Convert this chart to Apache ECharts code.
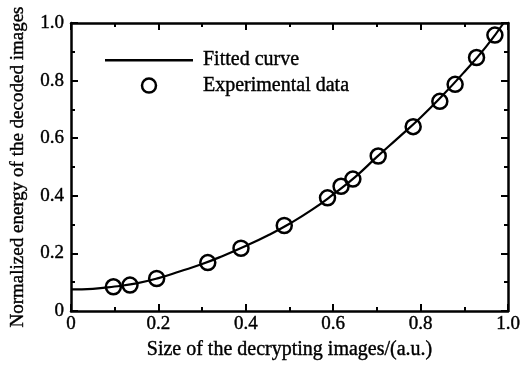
<!DOCTYPE html>
<html>
<head>
<meta charset="utf-8">
<script src="https://cdn.jsdelivr.net/npm/echarts@6/dist/echarts.min.js"></script>
<style>
html,body{margin:0;padding:0;background:#fff;}
#main{width:521px;height:365px;}
</style>
</head>
<body>
<div id="main"></div>
<script>
// 实验数据 (x, y)
var expX=[0.097,0.135,0.196,0.313,0.389,0.488,0.587,0.618,0.645,0.703,0.783,0.844,0.879,0.928,0.970];
var expY=[0.084,0.090,0.113,0.168,0.218,0.297,0.393,0.433,0.458,0.538,0.640,0.728,0.787,0.880,0.958];
// 拟合曲线
var fitX=[0,0.05,0.1,0.15,0.2,0.25,0.3,0.35,0.4,0.45,0.5,0.55,0.6,0.65,0.7,0.75,0.8,0.85,0.9,0.95,0.99];
var fitY=[0.075,0.077,0.085,0.096,0.114,0.138,0.163,0.193,0.226,0.262,0.303,0.350,0.405,0.465,0.535,0.603,0.672,0.748,0.830,0.918,1.0];
var xName='Size of the decrypting images/(a.u.)';
var yName='Normalized energy of the decoded images';
var seriesNames=['Fitted curve','Experimental data'];

var font='"Liberation Serif","Times New Roman",serif';
var chart=echarts.init(document.getElementById('main'));

function pairs(xs,ys){
	var out=[];
	for(var i=0;i<xs.length;i++){
		out.push([xs[i],ys[i]]);
	}
	return out;
}
function fmt(v){
	return v==0 ? '0' : v.toFixed(1);
}
//文字稍微加粗，接近扫描图的效果
function txt(size){
	return {fontFamily:font,fontSize:size,color:'#000',textBorderColor:'#000',textBorderWidth:0.4};
}

var axisLine={show:true,onZero:false,lineStyle:{color:'#000',width:2.5}};
var tick={show:true,inside:true,length:7,lineStyle:{color:'#000',width:2}};
var minor={show:true,splitNumber:2,length:4,lineStyle:{color:'#000',width:2}};

var labelStyle=txt(19);
labelStyle.margin=4;
labelStyle.formatter=fmt;
var yLabelStyle=txt(19);
yLabelStyle.margin=7;
yLabelStyle.formatter=fmt;
var legendText=txt(20);
legendText.padding=[0,0,0,5];

var option={
	backgroundColor:'#fff',
	animation:false,
	grid:{left:71,right:13,top:23,bottom:54,outerBoundsMode:'none'},
	legend:{
		orient:'vertical',
		left:100,
		top:45,
		itemWidth:88,
		itemHeight:14,
		itemGap:5,
		textStyle:legendText,
		data:[
			{name:seriesNames[0],icon:'path://M0,0H100V3H0Z',itemStyle:{color:'#000'}},
			{name:seriesNames[1],icon:'circle',itemStyle:{color:'rgba(0,0,0,0)',borderColor:'#000',borderWidth:2.5}}
		]
	},
	xAxis:[
		{
			type:'value',min:0,max:1,interval:0.2,
			name:xName,nameLocation:'middle',nameGap:28,
			nameTextStyle:txt(20),
			axisLine:axisLine,axisTick:tick,minorTick:minor,
			splitLine:{show:false},
			axisLabel:labelStyle
		},
		{
			type:'value',position:'top',min:0,max:1,interval:0.2,
			axisLine:axisLine,axisTick:tick,minorTick:minor,
			splitLine:{show:false},axisLabel:{show:false}
		}
	],
	yAxis:[
		{
			type:'value',min:0,max:1,interval:0.2,
			name:yName,nameLocation:'middle',nameGap:43,
			nameTextStyle:txt(19),
			axisLine:axisLine,axisTick:tick,minorTick:minor,
			splitLine:{show:false},
			axisLabel:yLabelStyle
		},
		{
			type:'value',position:'right',min:0,max:1,interval:0.2,
			axisLine:axisLine,axisTick:tick,minorTick:minor,
			splitLine:{show:false},axisLabel:{show:false}
		}
	],
	series:[
		{
			name:seriesNames[0],
			type:'line',
			smooth:true,
			symbol:'none',
			lineStyle:{color:'#000',width:2.2},
			itemStyle:{color:'#000'},
			data:pairs(fitX,fitY)
		},
		{
			name:seriesNames[1],
			type:'scatter',
			symbol:'circle',
			symbolSize:15,
			itemStyle:{color:'rgba(0,0,0,0)',borderColor:'#000',borderWidth:2.5,opacity:1},
			data:pairs(expX,expY),
			z:3
		}
	]
};
chart.setOption(option);
</script>
</body>
</html>
